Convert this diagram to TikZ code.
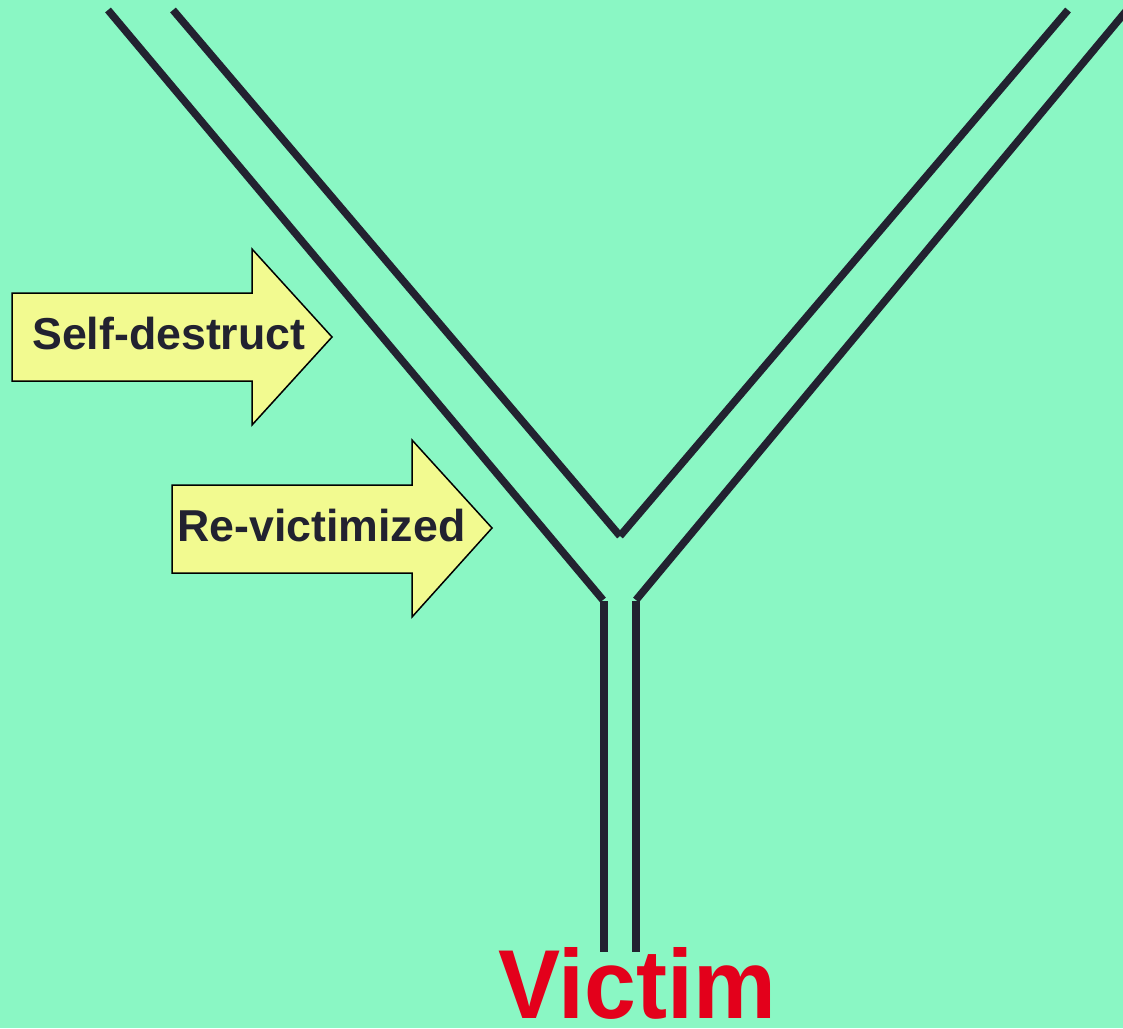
\documentclass[tikz,border=0pt]{standalone}
\usepackage{fontspec}
\setmainfont{Liberation Sans}
\definecolor{bg}{RGB}{138,247,196}
\definecolor{pipe}{RGB}{34,34,48}
\definecolor{arrowfill}{RGB}{242,250,144}
\definecolor{victimred}{RGB}{227,0,27}
\begin{document}
\begin{tikzpicture}[x=1pt,y=-1pt,
  pipeline/.style={draw=pipe,line width=7.5pt,line cap=butt},
  bigarrow/.style={draw=black,line width=1.5pt,fill=arrowfill,line join=miter},
  arrowtext/.style={font=\bfseries\fontsize{44.7}{50}\selectfont,text=pipe,inner sep=0pt,anchor=base west},
  victimtext/.style={font=\bfseries\fontsize{98}{100}\selectfont,text=victimred,inner sep=0pt,text depth=0pt,anchor=base,xscale=0.95}]
\fill[bg] (0,0) rectangle (1123,1028);
\useasboundingbox (0,0) rectangle (1123,1028);
\begin{scope}
\clip (0,0) rectangle (1123,1028);
% outer left
\coordinate (olTop) at (108,10);
\coordinate (olBot) at (603,600);
% inner left / right
\coordinate (ilTop) at (173,10);
\coordinate (iV) at (620,536);
\coordinate (irTop) at (1068,10);
% outer right
\coordinate (orBot) at (636,600);
\coordinate (orTop) at (1137,-2);
% stem
\coordinate (slTop) at (604,601);
\coordinate (slBot) at (604,952);
\coordinate (srTop) at (636,601);
\coordinate (srBot) at (636,952);
\draw[pipeline] (olTop) -- (olBot);
\draw[pipeline] (ilTop) -- (iV);
\draw[pipeline] (iV) -- (irTop);
\draw[pipeline] (orBot) -- (orTop);
\draw[pipeline] (slTop) -- (slBot);
\draw[pipeline] (srTop) -- (srBot);
\end{scope}
% arrows
\draw[bigarrow] (12,293) -- (252,293) -- (252,249) -- (332,337) -- (252,425) -- (252,381) -- (12,381) -- cycle;
\node[arrowtext] (self) at (32,349) {Self-destruct};
\draw[bigarrow] (172,485) -- (412,485) -- (412,440) -- (492,528) -- (412,617) -- (412,573) -- (172,573) -- cycle;
\node[arrowtext] (revict) at (177,541) {Re-victimized};
\node[victimtext] (victim) at (637,1018) {Victim};
\end{tikzpicture}
\end{document}
